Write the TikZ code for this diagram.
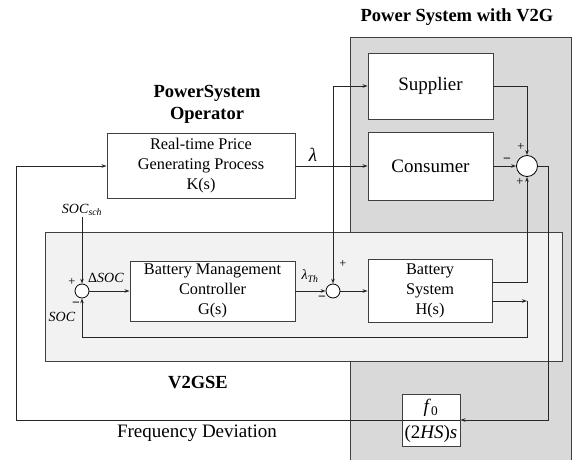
\documentclass[tikz,border=0pt]{standalone}
\usepackage{fontspec}
\setmainfont{Liberation Serif}
\usetikzlibrary{positioning, arrows.meta, calc}
\definecolor{sysgray}{RGB}{217,217,217}
\definecolor{segray}{RGB}{242,242,242}
\definecolor{edgegray}{RGB}{64,64,64}
\tikzset{
  region/.style={rectangle, draw=edgegray, line width=0.9pt, inner sep=0pt},
  block/.style={rectangle, draw=edgegray, fill=white, line width=0.9pt, align=center, inner sep=0pt, font=\fontsize{16.3}{20}\selectfont},
  bigtext/.style={font=\fontsize{19}{22}\selectfont},
  sumjunction/.style={circle, draw=black, fill=white, line width=0.8pt, inner sep=0pt},
  headline/.style={font=\fontsize{18.5}{22}\selectfont\bfseries, align=center},
  sigtext/.style={font=\fontsize{14}{14}\selectfont, inner sep=1pt},
  signlbl/.style={font=\fontsize{12.5}{12.5}\selectfont, inner sep=0pt},
  arrow/.style={line width=0.8pt, draw=black!85, -{Stealth[length=5pt,width=3.5pt]}},
  wire/.style={line width=0.8pt, draw=black!85}
}
\begin{document}
\begin{tikzpicture}[x=1pt, y=-1pt]
        \useasboundingbox (0,0) rectangle (573,460);
        % Regiones sombreadas
        \node (v2gbg) [region, fill=sysgray, minimum width=221pt, minimum height=426pt] at (460.5,250) {};
        \node (v2gse) [region, fill=segray, minimum width=517pt, minimum height=129pt] at (303.5,296.5) {};
        
        % Titulos
        \node (v2gtitle) [headline] at (457,17) {Power System with V2G};
        \node (psotitle) [headline] at (207,104) {PowerSystem\\Operator};
        \node (v2gselbl) [headline] at (198,383) {V2GSE};
        \node (freqlbl) [bigtext] at (197,433) {Frequency Deviation};
        
        % Bloques
        \node (kbox) [block, minimum width=188pt, minimum height=65pt] at (201,166) {Real-time Price\\Generating Process\\K(s)};
        \node (supplier) [block, bigtext, minimum width=125pt, minimum height=66pt] at (430.5,86) {Supplier};
        \node (consumer) [block, bigtext, minimum width=125pt, minimum height=68pt] at (430.5,166) {Consumer};
        \node (bmc) [block, minimum width=165pt, minimum height=60pt] at (212.5,291) {Battery Management\\Controller\\G(s)};
        \node (bsys) [block, minimum width=124pt, minimum height=63pt] at (430,291) {Battery\\System\\H(s)};
        \node (fbox) [block, minimum width=58pt, minimum height=52pt] at (431,420) {};
        \node (fnum) [bigtext, inner sep=0pt] at (431,408) {\textit{f}\textsubscript{0}};
        \node (fden) [bigtext, inner sep=0pt] at (431,434) {(2\textit{HS})\textit{s}};
        
        % Sumadores
        \node (psum) [sumjunction, minimum size=21pt] at (527,166) {};
        \node (socsum) [sumjunction, minimum size=14pt] at (82,291) {};
        \node (thsum) [sumjunction, minimum size=14pt] at (333,291) {};
        
        % Puntos auxiliares
        \coordinate (lamsplit) at (333,166);
        \coordinate (outcorner) at (548,420);
        \coordinate (fbcorner) at (16,420);
        \coordinate (hout) at (527,301);
        \coordinate (hdown) at (527,337);
        
        % Etiquetas de senales
        \node (socsch) [sigtext] at (82,210) {\textit{SOC}\textsubscript{\textit{sch}}};
        \node (lamlbl) [bigtext] at (313,155) {\textit{λ}};
        \node (dsoclbl) [sigtext] at (106,278) {Δ\textit{SOC}};
        \node (soclbl) [sigtext] at (62,317) {\textit{SOC}};
        \node (lamthlbl) [sigtext] at (310,276) {\textit{λ}\textsubscript{\textit{Th}}};
        
        % Signos
        \node (socplus) [signlbl] at (72,282) {+};
        \node (socminus) [signlbl] at (76,304) {\textbf{–}};
        \node (thplus) [signlbl] at (343,264) {+};
        \node (thminus) [signlbl] at (322,298) {\textbf{–}};
        \node (pplus) [signlbl] at (521,147) {+};
        \node (pminus) [signlbl] at (507,160) {\textbf{–}};
        \node (pplusb) [signlbl] at (520,182) {+};
        
        % Conexiones
        \draw [arrow] (kbox.east) -- (consumer.west);
        \draw [arrow] (lamsplit) |- (supplier.west);
        \draw [arrow] (lamsplit) -- (thsum.north);
        \draw [arrow] (supplier.east) -| (psum.north);
        \draw [arrow] (consumer.east) -- (psum.west);
        \draw [arrow] ([yshift=9pt]bsys.east) -| (psum.south);
        \draw [arrow] (psum.east) -| (outcorner) -- (fbox.east);
        \draw [arrow] (fbox.west) -- (fbcorner) |- (kbox.west);
        \draw [wire] (fbox.west) -- (fbox.east);
        
        % Lazo del V2GSE
        \draw [arrow] (socsch) -- (socsum.north);
        \draw [arrow] (socsum) -- (bmc);
        \draw [arrow] (bmc) -- (thsum);
        \draw [arrow] (thsum) -- (bsys);
        \draw [arrow] (bsys.east |- hout) -- (hout);
        \draw [arrow] (hout) -- (hdown) -| (socsum.south);
        
    \end{tikzpicture}
\end{document}
